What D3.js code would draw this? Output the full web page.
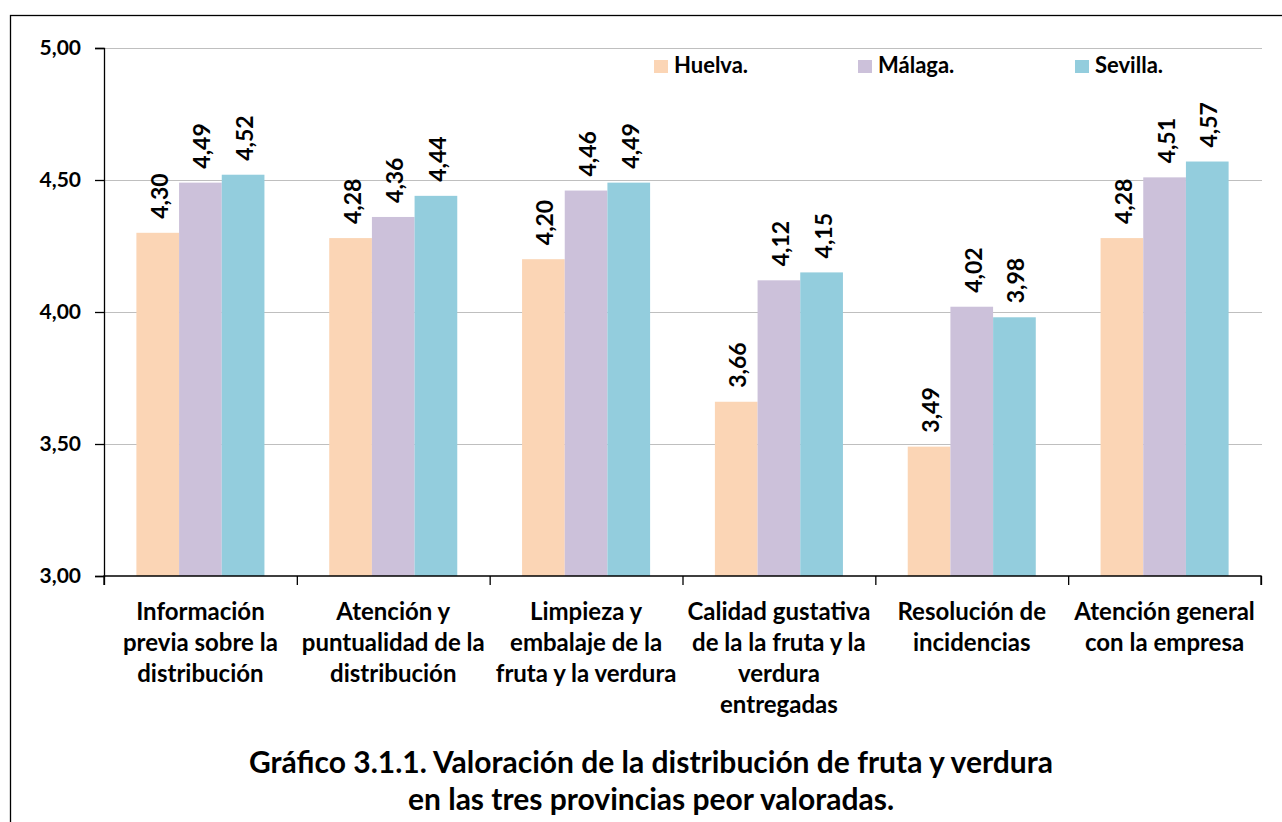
<!DOCTYPE html>
<html><head><meta charset="utf-8">
<script src="https://cdn.jsdelivr.net/npm/d3@7"></script>
<style>
body{margin:0;background:#fff;}
svg{display:block;font-family:Lato,"Open Sans",sans-serif;font-weight:bold;}
</style></head>
<body><svg id="c" width="1282" height="822"></svg>
<script>
const categories = [
  ["Información","previa sobre la","distribución"],
  ["Atención y","puntualidad de la","distribución"],
  ["Limpieza y","embalaje de la","fruta y la verdura"],
  ["Calidad gustativa","de la la fruta y la","verdura","entregadas"],
  ["Resolución de","incidencias"],
  ["Atención general","con la empresa"]
];
const seriesNames = ["Huelva.","Málaga.","Sevilla."];
const huelva  = [4.30,4.28,4.20,3.66,3.49,4.28];
const malaga  = [4.49,4.36,4.46,4.12,4.02,4.51];
const sevilla = [4.52,4.44,4.49,4.15,3.98,4.57];
const yTicks = [3.0,3.5,4.0,4.5,5.0];
const titleLines = ["Gráfico 3.1.1. Valoración de la distribución de fruta y verdura","en las tres provincias peor valoradas."];
const colors = ["#FBD5B5","#CCC1DA","#93CDDD"];

const series = [huelva, malaga, sevilla];
const svg = d3.select("#c");
const fmt = v => d3.format(".2f")(v).replace(".", ",");

// outer frame (top and left edges visible)
svg.append("rect").attr("x",10.5).attr("y",15.5).attr("width",1400).attr("height",1000)
  .attr("fill","none").attr("stroke","#000").attr("stroke-width",1.3);

const L=104, R=1261, T=48, B=576;
const x0 = d3.scaleBand().domain(d3.range(categories.length)).range([L,R]).paddingInner(0.336).paddingOuter(0.168);
const x1 = d3.scaleBand().domain(d3.range(series.length)).range([0,x0.bandwidth()]);
const y = d3.scaleLinear().domain([3,5]).range([B,T]);

// gridlines
svg.append("g").selectAll("line").data(yTicks.filter(t=>t>3)).join("line")
  .attr("x1",L).attr("x2",R+1).attr("y1",d=>y(d)+0.5).attr("y2",d=>y(d)+0.5)
  .attr("stroke","#BFBFBF").attr("stroke-width",1);

// bars
const g = svg.append("g");
series.forEach((s,si)=>{
  g.selectAll(null).data(s).join("rect")
    .attr("x",(d,i)=>x0(i)+x1(si)).attr("width",x1.bandwidth())
    .attr("y",d=>y(d)).attr("height",d=>B-y(d)).attr("fill",colors[si]);
  g.selectAll(null).data(s).join("text")
    .attr("transform",(d,i)=>`translate(${x0(i)+x1(si)+x1.bandwidth()/2+1},${y(d)-14}) rotate(-90)`)
    .attr("dominant-baseline","central").attr("font-size",23).attr("fill","#000")
    .text(d=>fmt(d));
});

// y axis
const ya = svg.append("g").attr("transform",`translate(${L},0)`)
  .call(d3.axisLeft(y).tickValues(yTicks).tickSize(9).tickPadding(14).tickFormat(fmt));
ya.select(".domain").attr("stroke","#000").attr("stroke-width",1.3);
ya.selectAll(".tick line").attr("stroke","#000").attr("stroke-width",1.3);
ya.selectAll("text").attr("font-size",21).attr("font-family","Lato").attr("font-weight","bold").attr("fill","#000");

// x axis
const xb = d3.scaleLinear().domain([0,categories.length]).range([L,R]);
const xa = svg.append("g").attr("transform",`translate(0,${B})`)
  .call(d3.axisBottom(xb).ticks(categories.length).tickSize(9).tickFormat(""));
xa.select(".domain").attr("stroke","#000").attr("stroke-width",1.3).attr("d",`M${L},9V0H${R}V9`);
xa.selectAll(".tick line").attr("stroke","#000").attr("stroke-width",1.3);

// category labels
categories.forEach((lines,i)=>{
  const t = svg.append("text").attr("text-anchor","middle").attr("font-size",24).attr("fill","#000");
  lines.forEach((ln,k)=>{
    t.append("tspan").attr("x",x0(i)+x0.bandwidth()/2).attr("y",619.5+k*31.3).text(ln);
  });
});

// legend
const legX = [654,858,1075];
seriesNames.forEach((n,i)=>{
  svg.append("rect").attr("x",legX[i]).attr("y",60).attr("width",14).attr("height",13).attr("fill",colors[i]);
  svg.append("text").attr("x",legX[i]+20).attr("y",72.5)
    .attr("font-size",22).attr("fill","#000").text(n);
});

// title
titleLines.forEach((ln,k)=>{
  svg.append("text").attr("x",651).attr("y",773+k*37).attr("text-anchor","middle")
    .attr("font-size",30).attr("fill","#000").text(ln);
});
</script></body></html>
